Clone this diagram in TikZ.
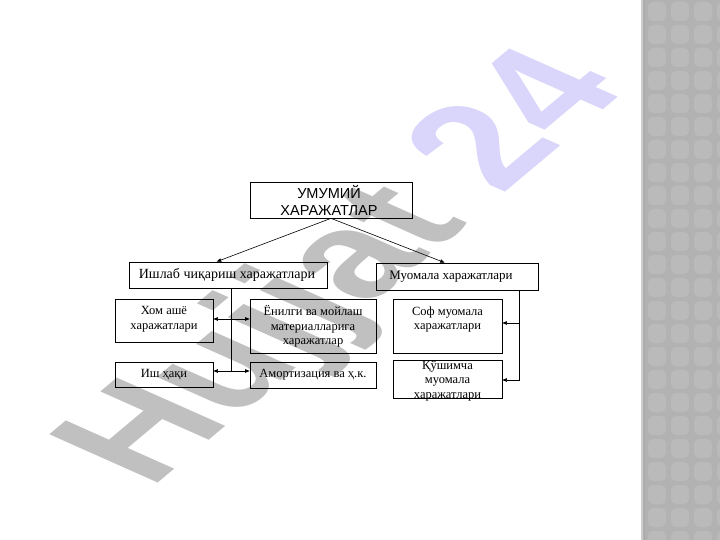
\documentclass[tikz,border=0pt]{standalone}
\usepackage{fontspec}
\setmainfont{Liberation Serif}
\setsansfont{Liberation Sans}
\usetikzlibrary{arrows.meta,calc}
\definecolor{wmgray}{RGB}{192,192,192}
\definecolor{wmlav}{RGB}{218,213,250}
\definecolor{stripbase}{RGB}{178,178,178}
\definecolor{striplight}{RGB}{186,186,186}
\begin{document}
\begin{tikzpicture}[x=1pt,y=-1pt,
  bx/.style={draw=black,line width=0.7pt,inner sep=0pt},
  txt/.style={inner sep=0pt,align=center,font=\fontsize{12.5}{14.5}\selectfont},
  conn/.style={line width=0.6pt},
  arr/.style={line width=0.6pt,-{Triangle[length=4.5pt,width=3.5pt]}},
  dbl/.style={line width=0.6pt,{Triangle[length=4.5pt,width=3.5pt]}-{Triangle[length=4.5pt,width=3.5pt]}}]
\useasboundingbox (0,0) rectangle (720,540);
\fill[white] (0,0) rectangle (720,540);
% right strip
\fill[stripbase] (641,0) rectangle (720,540);
\foreach \i in {0,...,3}{
  \foreach \j in {0,...,23}{
    \fill[striplight,rounded corners=5pt] ({648+\i*23},{\j*23+2}) rectangle ++(18,19);
  }
}
\fill[black!20] (641,0) rectangle (643,540);
\fill[black!34] (643.5,0) rectangle (645,540);
% watermark
\begin{scope}[cm={0.766,0.643,-1.051,0.468,(150,490)}]
  \node[transform shape,anchor=base west,inner sep=0pt,
        font=\fontsize{150}{150}\selectfont\sffamily\bfseries] (wm) at (0,0)
        {\textcolor{wmgray}{Hujjat} \textcolor{wmlav}{24}};
\end{scope}
% boxes
\node[bx,minimum width=162,minimum height=36] (top) at (331,200) {};
\node[bx,minimum width=198,minimum height=26] (ish) at (228,275) {};
\node[bx,minimum width=162,minimum height=27] (muom) at (457,276.5) {};
\node[bx,minimum width=98,minimum height=43] (khom) at (164,320.5) {};
\node[bx,minimum width=126,minimum height=54] (yon) at (313,326) {};
\node[bx,minimum width=109,minimum height=54] (sof) at (447.5,326) {};
\node[bx,minimum width=109,minimum height=38] (qush) at (447.5,379) {};
\node[bx,minimum width=98,minimum height=25] (ish2) at (164,374.5) {};
\node[bx,minimum width=126,minimum height=26] (amort) at (313,375) {};
% texts
\node[txt,font=\fontsize{14.5}{17}\selectfont\sffamily] (topT) at (329,201) {УМУМИЙ\\ХАРАЖАТЛАР};
\node[txt,font=\fontsize{14}{16}\selectfont] (ishT) at (227,275) {Ишлаб чиқариш харажатлари};
\node[txt,font=\fontsize{13}{15}\selectfont] (muomT) at (451,276.5) {Муомала харажатлари};
\node[txt] (khomT) at (164,319) {Хом ашё\\харажатлари};
\node[txt] (yonT) at (313,326.5) {Ёнилги ва мойлаш\\материалларига\\харажатлар};
\node[txt] (sofT) at (447.5,319.5) {Соф муомала\\харажатлари};
\node[txt] (qushT) at (447.5,381) {Қўшимча\\муомала\\харажатлари};
\node[txt] (ish2T) at (164,375) {Иш ҳақи};
\node[txt] (amortT) at (313,375) {Амортизация ва ҳ.к.};
% connectors
\coordinate (ishIn) at ($(ish.north west)+(88,0)$);
\coordinate (muomIn) at ($(muom.north west)+(69,0)$);
\draw[arr] (top.south) -- (ishIn);
\draw[arr] (top.south) -- (muomIn);
\coordinate (lb) at ($(ish.south west)+(103,0)$);
\coordinate (lbEnd) at (lb |- 0,371);
\draw[conn] (lb) -- (lbEnd);
\draw[dbl] (khom.east |- 0,319) -- (yon.west |- 0,319);
\draw[dbl] (ish2.east |- 0,371) -- (amort.west |- 0,371);
\coordinate (rb) at ($(muom.south west)+(144,0)$);
\coordinate (rbEnd) at (rb |- 0,380);
\draw[conn] (rb) -- (rbEnd);
\draw[arr] (rb |- 0,323) -- (sof.east |- 0,323);
\draw[arr] (rbEnd) -- (qush.east |- rbEnd);
\end{tikzpicture}
\end{document}
